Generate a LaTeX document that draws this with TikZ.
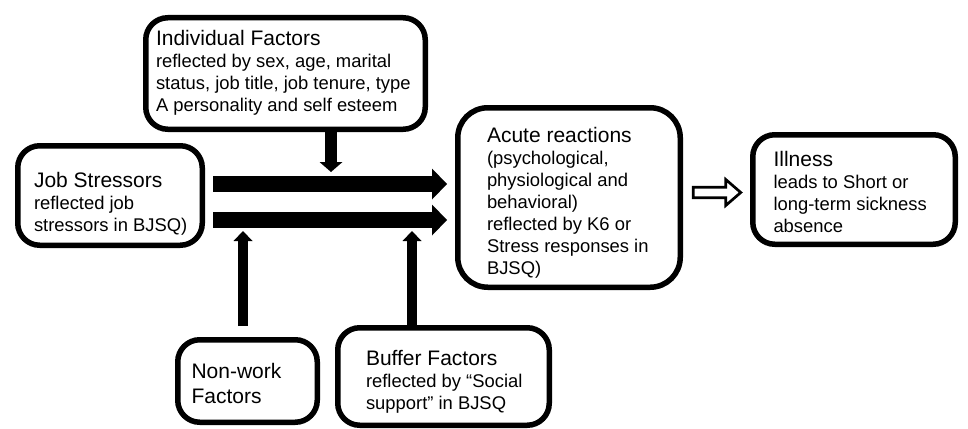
\documentclass[tikz,border=0pt]{standalone}
\usepackage{fontspec}
\setmainfont{Liberation Sans}
\usetikzlibrary{arrows.meta,calc}
\newcommand{\ttlfont}{\fontsize{21}{25}\selectfont}
\newcommand{\subfont}{\fontsize{18.4}{22}\selectfont}
\tikzset{
  rbox/.style={draw=black, line width=5.5pt, rounded corners=22pt, inner sep=0pt, outer sep=0pt},
  txt/.style={anchor=base west, inner sep=0pt, outer sep=0pt, text=black},
  bigarrow/.style={line width=16pt, -{Triangle[length=15pt,width=31pt,line width=0pt]}},
  downarrow/.style={line width=12pt, -{Triangle[length=10pt,width=23pt,line width=0pt]}},
  uparrow/.style={line width=10pt, -{Triangle[length=10pt,width=19pt,line width=0pt]}},
  hollow/.style={draw=black, line width=2.7pt, line join=miter, fill=white}
}
\begin{document}
\begin{tikzpicture}[x=1pt,y=-1pt]
\fill[white] (0,0) rectangle (968,428);
\useasboundingbox (0,0) rectangle (968,428);

% boxes
\node[rbox, minimum width=279.5pt, minimum height=111.5pt] (ind) at (285.5,73.5) {};
\node[rbox, minimum width=184.5pt, minimum height=99.5pt] (js) at (110,195.5) {};
\node[rbox, rounded corners=30pt, minimum width=222.5pt, minimum height=179.5pt] (acute) at (569,197.5) {};
\node[rbox, minimum width=202.5pt, minimum height=109.5pt] (ill) at (854,189.5) {};
\node[rbox, minimum width=139.5pt, minimum height=82.5pt] (nw) at (247.5,381) {};
\node[rbox, minimum width=211.5pt, minimum height=97.5pt] (buf) at (443.5,376.5) {};

% texts
\node[txt] (indT) at (156,45.7) {\parbox[t]{400pt}{\raggedright\ttlfont Individual Factors\par
  \subfont reflected by sex, age, marital\\status, job title, job tenure, type\\A personality and self esteem}};
\node[txt] (jsT) at (34,187) {\parbox[t]{300pt}{\raggedright\ttlfont Job Stressors\par
  \subfont reflected job\\stressors in BJSQ)}};
\node[txt] (acuteT) at (487,142) {\parbox[t]{300pt}{\raggedright\ttlfont Acute reactions\par
  \subfont (psychological,\\physiological and\\behavioral)\\reflected by K6 or\\Stress responses in\\BJSQ)}};
\node[txt] (illT) at (773.5,166) {\parbox[t]{300pt}{\raggedright\ttlfont Illness\par
  \subfont leads to Short or\\long-term sickness\\absence}};
\node[txt] (nwT) at (191.5,378) {\parbox[t]{300pt}{\raggedright\ttlfont Non-work\\Factors}};
\node[txt] (bufT) at (366,365) {\parbox[t]{300pt}{\raggedright\ttlfont Buffer Factors\par
  \subfont reflected by “Social\\support” in BJSQ}};

% main arrows
\coordinate (yA) at (0,184);
\coordinate (yB) at (0,220);
\draw[bigarrow, shorten <=10.75pt, shorten >=10.75pt] (js.east |- yA) -- (acute.west |- yA);
\draw[bigarrow, shorten <=10.75pt, shorten >=10.75pt] (js.east |- yB) -- (acute.west |- yB);

% influence arrows
\coordinate (tI) at (331,172);
\draw[downarrow] (ind.south -| tI) -- (tI);
\coordinate (tN) at (243,231);
\draw[uparrow, shorten <=13.75pt] (nw.north -| tN) -- (tN);
\coordinate (tB) at (412,231);
\draw[uparrow] (buf.north -| tB) -- (tB);

% hollow arrow
\coordinate (hy) at (0,192.5);
\coordinate (hs) at ($(acute.east |- hy)+(13,0)$);
\coordinate (he) at ($(ill.west |- hy)+(-12,0)$);
\draw[hollow] ($(hs)+(0,-5.3)$) -- ($(he)+(-15,-5.3)$) -- ($(he)+(-15,-13)$) -- (he)
  -- ($(he)+(-15,13)$) -- ($(he)+(-15,5.3)$) -- ($(hs)+(0,5.3)$) -- cycle;
\end{tikzpicture}
\end{document}
